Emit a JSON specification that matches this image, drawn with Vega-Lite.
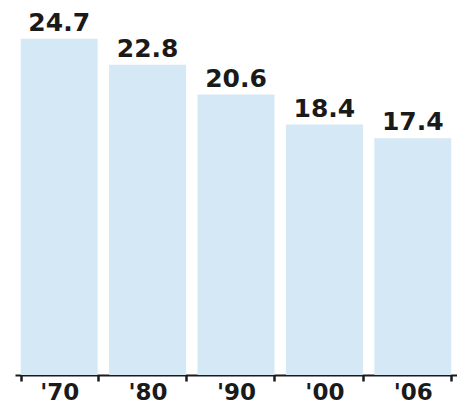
{
  "$schema": "https://vega.github.io/schema/vega-lite/v6.json",
  "width": 442,
  "height": 375,
  "autosize": {"type": "none"},
  "padding": {"left": 15, "top": 0, "right": 0, "bottom": 33},
  "background": "white",
  "config": {"view": {"stroke": null}},
  "data": {
    "values": [
      {"year": "'70", "value": 24.7},
      {"year": "'80", "value": 22.8},
      {"year": "'90", "value": 20.6},
      {"year": "'00", "value": 18.4},
      {"year": "'06", "value": 17.4}
    ]
  },
  "encoding": {
    "x": {
      "field": "year",
      "type": "nominal",
      "sort": null,
      "scale": {"paddingInner": 0.13, "paddingOuter": 0.065},
      "axis": {
        "title": null,
        "labelAngle": 0,
        "labelFont": "DejaVu Sans",
        "labelFontWeight": "bold",
        "labelFontSize": 23,
        "labelColor": "#1a1a1a",
        "labelPadding": 0,
        "domainColor": "#1a1a1a",
        "domainWidth": 2,
        "tickColor": "#1a1a1a",
        "tickWidth": 2.5,
        "tickSize": 6,
        "tickBand": "extent"
      }
    },
    "y": {
      "field": "value",
      "type": "quantitative",
      "scale": {"domain": [0, 27.55], "nice": false},
      "axis": null
    }
  },
  "layer": [
    {"mark": {"type": "bar", "color": "#d5e8f5"}},
    {
      "mark": {
        "type": "text",
        "baseline": "alphabetic",
        "dy": -8,
        "font": "DejaVu Sans",
        "fontWeight": "bold",
        "fontSize": 25,
        "color": "#1a1a1a"
      },
      "encoding": {"text": {"field": "value", "type": "quantitative", "format": ".1f"}}
    }
  ]
}
